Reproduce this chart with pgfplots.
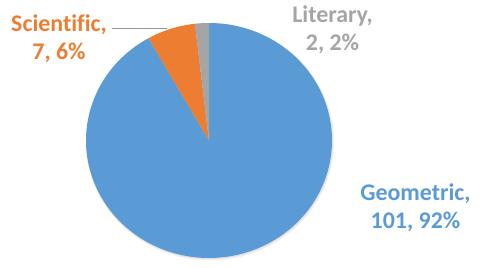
\documentclass[border=0pt]{standalone}
\usepackage{pgfplots}
\pgfplotsset{compat=1.18}
\usepackage{fontspec}
\setmainfont{Carlito}[Ligatures=NoCommon]
\definecolor{geo}{HTML}{5B9BD5}
\definecolor{sci}{HTML}{ED7D31}
\definecolor{lit}{HTML}{A5A5A5}
% data
\def\vGeo{101}
\def\vSci{7}
\def\vLit{2}
\pgfmathsetmacro\tot{\vGeo+\vSci+\vLit}
\pgfmathsetmacro\aA{\vGeo/\tot*360}
\pgfmathsetmacro\aB{\aA+\vSci/\tot*360}
\begin{document}
\begin{tikzpicture}
\begin{axis}[
  scale only axis, width=480bp, height=267bp,
  xmin=0, xmax=480, ymin=0, ymax=267,
  hide axis, clip=false,
]
\path (axis cs:0,0) rectangle (axis cs:480,267);
% soft shadow
\addplot[draw=none, fill=black, fill opacity=0.06, domain=0:360, samples=120]
  ({210+124*cos(x)}, {125+118.5*sin(x)}) -- cycle;
\addplot[draw=none, fill=black, fill opacity=0.06, domain=0:360, samples=120]
  ({209.5+123.5*cos(x)}, {125.8+118*sin(x)}) -- cycle;
% wedges (clockwise from 12 o'clock)
\addplot[draw=none, fill=geo, domain=0:\aA, samples=150]
  ({209+123*cos(90-x)}, {126.5+117.5*sin(90-x)}) -- (axis cs:209,126.5) -- cycle;
\addplot[draw=none, fill=sci, domain=\aA:\aB, samples=20]
  ({209+123*cos(90-x)}, {126.5+117.5*sin(90-x)}) -- (axis cs:209,126.5) -- cycle;
\addplot[draw=none, fill=lit, domain=\aB:360, samples=10]
  ({209+123*cos(90-x)}, {126.5+117.5*sin(90-x)}) -- (axis cs:209,126.5) -- cycle;
% leader line
\addplot[draw=lit!90!black, line width=1pt] coordinates {(112,238) (167,238)};
% labels
\node[text=sci, font=\fontsize{24}{28}\selectfont\bfseries, align=center] at (axis cs:59,228.5) {Scientific,\\7, 6\%};
\node[text=lit, font=\fontsize{24}{28}\selectfont\bfseries, align=center] at (axis cs:332.5,237.5) {Literary,\\2, 2\%};
\node[text=geo, font=\fontsize{24}{28}\selectfont\bfseries, align=center] at (axis cs:415.5,59.5) {Geometric,\\101, 92\%};
\end{axis}
\end{tikzpicture}
\end{document}
